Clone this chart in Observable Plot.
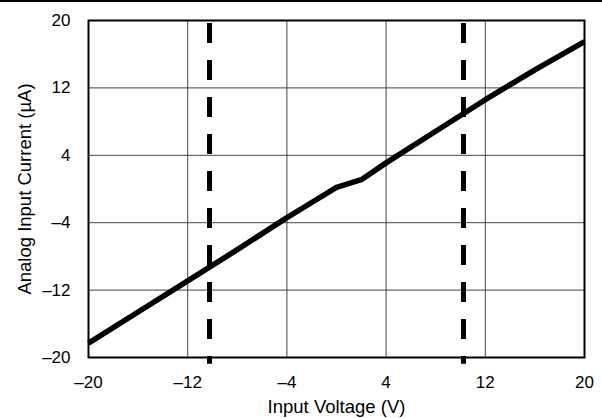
<!DOCTYPE html>
<html>
<head>
<meta charset="utf-8">
<script src="https://cdn.jsdelivr.net/npm/d3@7"></script>
<script src="https://cdn.jsdelivr.net/npm/@observablehq/plot@0.6"></script>
<style>
  html, body { margin: 0; padding: 0; background: #fff; }
  #wrap { position: relative; width: 602px; height: 418px; }
  #topline { position: absolute; left: 0; top: 0; width: 602px; height: 2px; background: #000; }
  svg { font-family: Arial, "Liberation Sans", sans-serif; }
</style>
</head>
<body>
<div id="wrap"><div id="topline"></div><div id="chart"></div></div>
<script>
const voltage = [-20, -16, -12, -8, -4, -2, 0, 2, 4, 8, 12, 16, 20];
const current = [-18.3, -14.6, -10.9, -7.2, -3.4, -1.6, 0.2, 1.1, 3.1, 6.85, 10.6, 14.15, 17.5];
const limits = [-10.24, 10.24];
const xTicks = [-20, -12, -4, 4, 12, 20];
const yTicks = [-20, -12, -4, 4, 12, 20];
const xLabel = "Input Voltage (V)";
const yLabel = "Analog Input Current (µA)";

const data = voltage.map((v, i) => ({v, c: current[i]}));
const fmt = d => d < 0 ? "\u2013" + Math.abs(d) : String(d);

const chart = Plot.plot({
  width: 602,
  height: 418,
  marginTop: 20,
  marginRight: 18,
  marginBottom: 61,
  marginLeft: 88,
  style: {fontFamily: "Arial, 'Liberation Sans', sans-serif", color: "#000", background: "#fff"},
  x: {domain: [-20, 20]},
  y: {domain: [-20, 20]},
  marks: [
    Plot.gridX(xTicks, {stroke: "#444", strokeOpacity: 1, strokeWidth: 1}),
    Plot.gridY(yTicks, {stroke: "#444", strokeOpacity: 1, strokeWidth: 1}),
    Plot.axisX(xTicks, {tickFormat: fmt, tickSize: 0, tickPadding: 18, fontSize: 17, label: null}),
    Plot.axisY(yTicks, {tickFormat: fmt, tickSize: 0, tickPadding: 18, fontSize: 17, label: null}),
    Plot.text([xLabel], {frameAnchor: "bottom", dy: 50, lineAnchor: "middle", textAnchor: "middle", fontSize: 18.5}),
    Plot.text([yLabel], {frameAnchor: "left", dx: -63, rotate: -90, lineAnchor: "middle", textAnchor: "middle", fontSize: 18.5}),
    Plot.ruleX(limits, {y1: 20, y2: -20.8, stroke: "#000", strokeWidth: 5, strokeDasharray: "20,17", strokeDashoffset: -3, clip: false}),
    Plot.line(data, {x: "v", y: "c", stroke: "#000", strokeWidth: 5.5, strokeLinejoin: "round", strokeLinecap: "butt"}),
    Plot.frame({stroke: "#000", strokeWidth: 2})
  ]
});
document.getElementById("chart").appendChild(chart);
</script>
</body>
</html>
